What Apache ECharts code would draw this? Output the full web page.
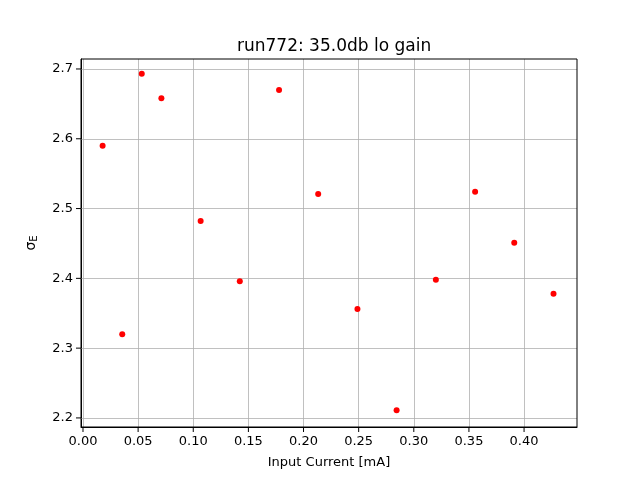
<!DOCTYPE html>
<html>
<head>
<meta charset="utf-8">
<script src="https://cdn.jsdelivr.net/npm/echarts@6/dist/echarts.min.js"></script>
<style>
  body { margin: 0; background: #fff; }
  #chart { width: 640px; height: 480px; }
</style>
</head>
<body>
<div id="chart"></div>
<script>
// 数据
const inputCurrent = [0.0178, 0.0356, 0.0533, 0.0711, 0.1067, 0.1422, 0.1778,
  0.2133, 0.2489, 0.2844, 0.3200, 0.3556, 0.3911, 0.4267];
const sigmaE = [2.590, 2.320, 2.693, 2.658, 2.482, 2.396, 2.670,
  2.521, 2.356, 2.211, 2.398, 2.524, 2.451, 2.378];
const xTicks = [0.00, 0.05, 0.10, 0.15, 0.20, 0.25, 0.30, 0.35, 0.40];
const yTicks = [2.2, 2.3, 2.4, 2.5, 2.6, 2.7];

const font = 'DejaVu Sans';
const points = inputCurrent.map((x, i) => [x, sigmaE[i]]);

const option = {
  animation: false,
  title: {
    text: 'run772: 35.0db lo gain',
    left: 232,
    top: 33,
    textStyle: { fontFamily: font, fontSize: 17, fontWeight: 'normal', color: '#000' }
  },
  grid: { left: 81, right: 63, top: 59, bottom: 53 },
  xAxis: {
    type: 'value',
    min: -0.0018,
    max: 0.448,
    name: 'Input Current [mA]',
    nameLocation: 'middle',
    nameGap: 29,
    nameTextStyle: { fontFamily: font, fontSize: 13, color: '#000' },
    axisLine: { onZero: false, lineStyle: { color: '#000', width: 1 } },
    axisTick: { show: false },
    axisLabel: {
      customValues: xTicks,
      formatter: v => v.toFixed(2),
      fontFamily: font, fontSize: 13, color: '#000', margin: 8
    },
    splitLine: { show: false }
  },
  yAxis: {
    type: 'value',
    min: 2.187,
    max: 2.7143,
    name: '{s|σ}{sub|E}',
    nameLocation: 'middle',
    nameRotate: 90,
    nameGap: 42,
    nameTextStyle: {
      rich: {
        s: { fontFamily: font, fontSize: 14, color: '#000' },
        sub: { fontFamily: font, fontSize: 10, color: '#000', padding: [6, 0, 0, 0] }
      }
    },
    axisLine: { onZero: false, lineStyle: { color: '#000', width: 1 } },
    axisTick: { show: false },
    axisLabel: {
      customValues: yTicks,
      formatter: v => v.toFixed(1),
      fontFamily: font, fontSize: 13, color: '#000', margin: 8
    },
    splitLine: { show: false }
  },
  series: [
    // 网格线（用 markLine 画在数据坐标上）
    {
      type: 'line',
      data: [],
      silent: true,
      markLine: {
        symbol: 'none',
        silent: true,
        label: { show: false },
        lineStyle: { color: '#b0b0b0', width: 0.8, type: 'solid' },
        data: xTicks.map(v => ({ xAxis: v })).concat(yTicks.map(v => ({ yAxis: v })))
      }
    },
    {
      type: 'scatter',
      data: points,
      symbol: 'circle',
      symbolSize: 6,
      itemStyle: { color: '#ff0000', opacity: 1 },
      z: 5
    }
  ]
};

const chart = echarts.init(document.getElementById('chart'));
chart.setOption(option);

// 外向刻度线
const xs = xTicks.map(v => chart.convertToPixel({ gridIndex: 0 }, [v, 2.187]));
const ys = yTicks.map(v => chart.convertToPixel({ gridIndex: 0 }, [-0.0018, v]));
const ticks = xs.map(p => ({ type: 'line', shape: { x1: p[0], y1: p[1], x2: p[0], y2: p[1] + 5 }, style: { stroke: '#000', lineWidth: 1 } }))
  .concat(ys.map(p => ({ type: 'line', shape: { x1: p[0] - 5, y1: p[1], x2: p[0], y2: p[1] }, style: { stroke: '#000', lineWidth: 1 } })));
// 边框
const tl = chart.convertToPixel({ gridIndex: 0 }, [-0.0018, 2.7143]);
const br = chart.convertToPixel({ gridIndex: 0 }, [0.448, 2.187]);
ticks.push({ type: 'rect', shape: { x: tl[0], y: tl[1], width: br[0] - tl[0], height: br[1] - tl[1] }, style: { fill: 'none', stroke: '#000', lineWidth: 1 }, z: 10 });
chart.setOption({ graphic: ticks });
</script>
</body>
</html>
